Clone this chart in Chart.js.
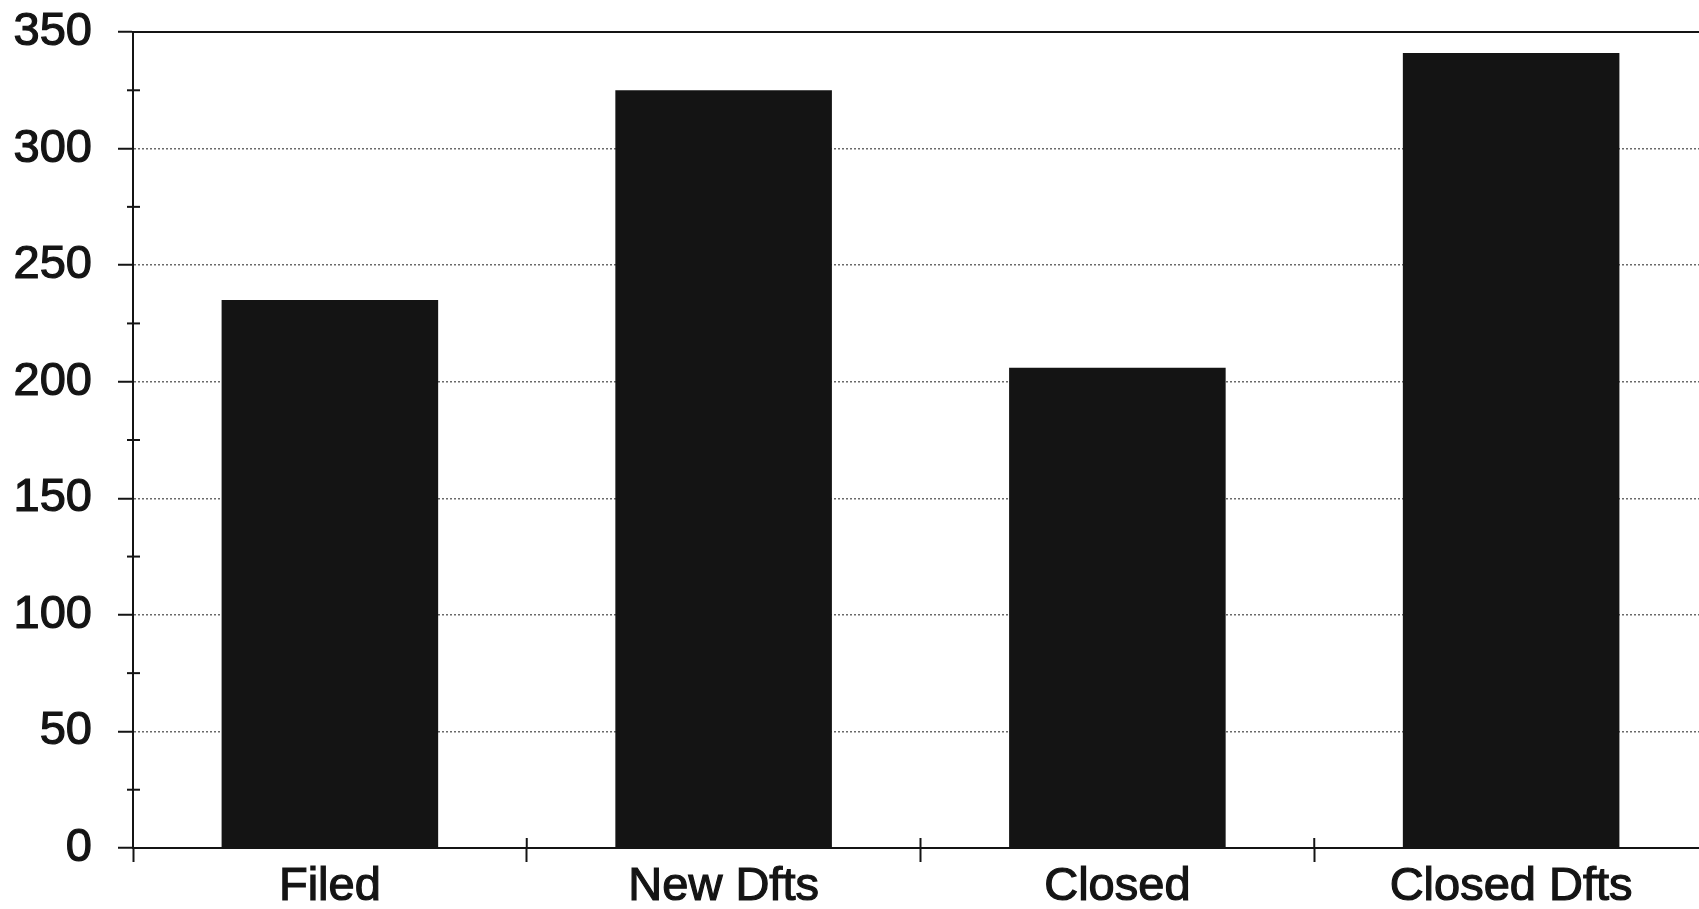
<!DOCTYPE html>
<html>
<head>
<meta charset="utf-8">
<title>Defect counts</title>
<script src="https://cdn.jsdelivr.net/npm/chart.js@4.4.0/dist/chart.umd.min.js"></script>
<style>
    html, body { margin: 0; padding: 0; background: #fff; overflow: hidden; }
    #wrap { width: 1708px; height: 920px; position: relative; }
</style>
</head>
<body>
<div id="wrap"><canvas id="defectChart"></canvas></div>
<script>
// Chart data
const categories = ['Filed', 'New Dfts', 'Closed', 'Closed Dfts'];
const counts = [235, 325, 206, 341];
const yTicks = [0, 50, 100, 150, 200, 250, 300, 350];
const yMinorStep = 25;

const INK = '#141414';
const FONT = "'Liberation Sans', Arial, sans-serif";

const isMajor = (value) => yTicks.includes(value);

/**
 * Short tick marks crossing the axes: minor steps on the value axis,
 * and a stub above the category axis at each category boundary
 */
const axisTicksPlugin = {
    id: 'axisTicks',
    afterDraw(chart) {
        const { x, y } = chart.scales;
        const ctx = chart.ctx;
        ctx.save();
        ctx.strokeStyle = INK;
        ctx.lineWidth = 2;

        for (let v = y.min; v <= y.max; v += yMinorStep) {
            if (isMajor(v)) continue;
            const py = y.getPixelForValue(v);
            ctx.beginPath();
            ctx.moveTo(y.right - 6, py);
            ctx.lineTo(y.right + 7, py);
            ctx.stroke();
        }

        for (let i = 0; i < categories.length - 1; i++) {
            const px = (x.getPixelForValue(i) + x.getPixelForValue(i + 1)) / 2;
            ctx.beginPath();
            ctx.moveTo(px, x.top);
            ctx.lineTo(px, x.top - 10);
            ctx.stroke();
        }
        ctx.restore();
    }
};

const DefectChart = {
    chart: null,

    /**
     * Build the bar chart
     * @param {string} canvasId - Canvas element ID
     */
    init(canvasId = 'defectChart') {
        const canvas = document.getElementById(canvasId);
        if (!canvas) return;

        this.chart = new Chart(canvas.getContext('2d'), {
            type: 'bar',
            data: {
                labels: categories,
                datasets: [{
                    data: counts,
                    backgroundColor: INK,
                    borderWidth: 0,
                    barPercentage: 0.55,
                    categoryPercentage: 1
                }]
            },
            plugins: [axisTicksPlugin],
            options: {
                responsive: true,
                maintainAspectRatio: false,
                animation: false,
                layout: {
                    padding: { top: 32, left: 0, right: 0, bottom: 0 }
                },
                plugins: {
                    legend: { display: false },
                    tooltip: { enabled: false }
                },
                scales: {
                    x: {
                        position: 'bottom',
                        offset: true,
                        afterFit(scale) { scale.height = 72; },
                        grid: {
                            offset: true,
                            drawOnChartArea: false,
                            drawTicks: true,
                            tickLength: 14,
                            tickColor: INK,
                            tickWidth: 2
                        },
                        border: { display: true, color: INK, width: 2 },
                        ticks: {
                            color: INK,
                            padding: 2,
                            textStrokeColor: INK,
                            textStrokeWidth: 1.2,
                            font: { family: FONT, size: 47, lineHeight: 1.0 }
                        }
                    },
                    // plain frame line along the top of the plot
                    x2: {
                        position: 'top',
                        type: 'category',
                        labels: categories,
                        afterFit(scale) { scale.height = 0; },
                        grid: { display: false, drawTicks: false },
                        border: { display: true, color: INK, width: 2 },
                        ticks: { display: false }
                    },
                    y: {
                        min: yTicks[0],
                        max: yTicks[yTicks.length - 1],
                        afterFit(scale) {
                            scale.width = 133;
                            // the wide label gap should not push the plot down
                            scale.paddingTop = 24;
                            scale.paddingBottom = 24;
                        },
                        grid: {
                            color: ctx => isMajor(ctx.tick.value) ? '#6a6a6a' : 'rgba(0,0,0,0)',
                            lineWidth: 1.5,
                            tickLength: 15,
                            tickColor: ctx => isMajor(ctx.tick.value) ? INK : 'rgba(0,0,0,0)',
                            tickWidth: 2
                        },
                        border: { display: true, color: INK, width: 2, dash: [2, 2] },
                        ticks: {
                            stepSize: 50,
                            color: INK,
                            padding: 26,
                            textStrokeColor: INK,
                            textStrokeWidth: 1.2,
                            font: { family: FONT, size: 47 }
                        }
                    }
                }
            }
        });
    }
};

DefectChart.init();
</script>
</body>
</html>
